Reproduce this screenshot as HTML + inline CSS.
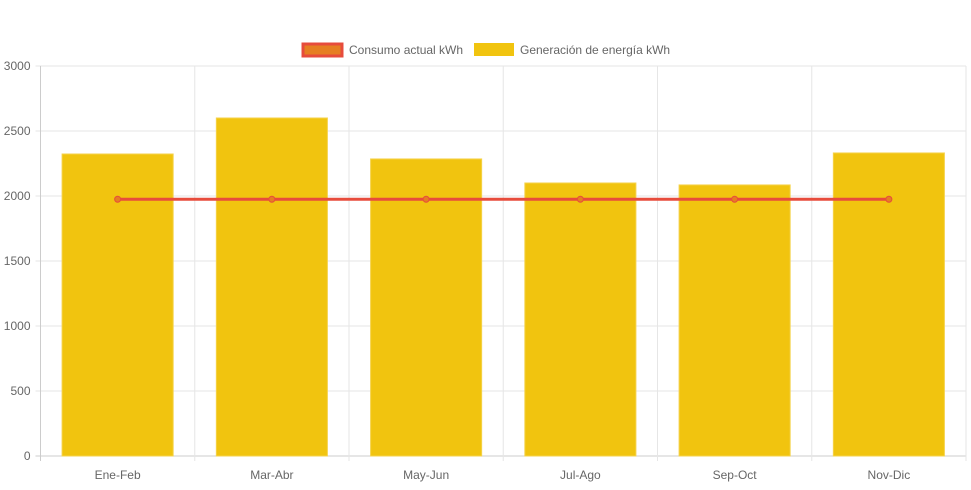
<!DOCTYPE html>
<html><head><meta charset="utf-8"><style>
body{margin:0;background:#fff;font-family:"Liberation Sans",sans-serif}
svg text{font-family:"Liberation Sans",sans-serif;font-size:12px;fill:#666}
</style></head><body>
<svg id="c" width="971" height="485"></svg>
<script>
const categories=["Ene-Feb","Mar-Abr","May-Jun","Jul-Ago","Sep-Oct","Nov-Dic"];
const generation=[2323,2600,2285,2100,2085,2331];
const consumption=[1975,1975,1975,1975,1975,1975];
const yTicks=[0,500,1000,1500,2000,2500,3000];
const NS="http://www.w3.org/2000/svg";
const svg=document.getElementById('c');
const L=40.5,R=966,T=66,B=456,YMAX=3000;
const cw=(R-L)/categories.length;
const y=v=>B-(v/YMAX)*(B-T);
const x=i=>L+cw*(i+0.5);
function el(t,a,p){const e=document.createElementNS(NS,t);for(const k in a)e.setAttribute(k,a[k]);(p||svg).appendChild(e);return e;}
yTicks.forEach(v=>{
 const g=el('line',{x1:L-5,x2:R,y1:y(v),y2:y(v),stroke:v===0?'#ccc':'#e6e6e6','stroke-width':1});
 
 
 const t=el('text',{x:L-10,y:y(v)+4,'text-anchor':'end'});t.textContent=v;
 
 
});
for(let i=0;i<=categories.length;i++){
 const g=el('line',{x1:L+cw*i,x2:L+cw*i,y1:T,y2:B+5,stroke:i===0?'#ccc':'#e6e6e6','stroke-width':1});
 
 
}
categories.forEach((c,i)=>{
 const bw=cw*0.72;
 const b=el('rect',{x:x(i)-bw/2,y:y(generation[i]),width:bw,height:B-y(generation[i]),fill:'#f1c40f',stroke:'#f5d24a','stroke-width':1});
 
 
 const t=el('text',{x:x(i),y:479,'text-anchor':'middle'});t.textContent=c;
 
 
});
const pl=el('polyline',{points:consumption.map((v,i)=>x(i)+','+y(v)).join(' '),fill:'none',stroke:'#e74c3c','stroke-width':3});


consumption.forEach((v,i)=>{
 const p=el('circle',{cx:x(i),cy:y(v),r:3,fill:'#e67e22',stroke:'#e74c3c','stroke-width':1});
 
 
});
const l1=el('rect',{x:303,y:44,width:39,height:12,fill:'#e67e22',stroke:'#e74c3c','stroke-width':3});


const t1=el('text',{x:349,y:54});t1.textContent='Consumo actual kWh';


const l2=el('rect',{x:474,y:43,width:40,height:13,fill:'#f1c40f'});


const t2=el('text',{x:520,y:54});t2.textContent='Generación de energía kWh';


</script>
</body></html>
